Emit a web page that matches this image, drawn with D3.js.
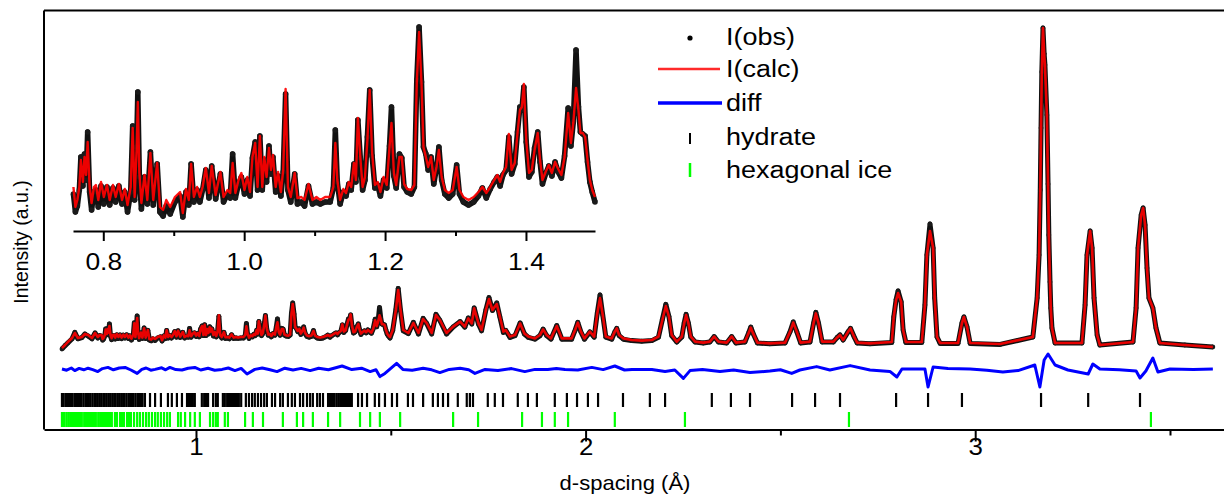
<!DOCTYPE html>
<html><head><meta charset="utf-8">
<script src="https://cdn.jsdelivr.net/npm/d3@7"></script>
<style>
html,body{margin:0;padding:0;background:#fff;}
svg{display:block;font-family:"Liberation Sans",Arial,sans-serif;}
</style></head><body>
<svg id="chart" width="1224" height="495"></svg>
<script>
// ---- data: [d-spacing (Å), I(obs), I(calc)] ----
const profile = [
[0.656,-25,-20],[0.664,-8,-5],[0.671,5,10],[0.682,26,30],[0.689,58,55],[0.697,26,30],[0.707,32,35],[0.715,50,50],
[0.723,40,45],[0.733,26,30],[0.741,55,55],[0.748,30,35],[0.753,42,45],
[0.7576,38,45],[0.7604,20,25],[0.7632,26,32],[0.7660,42,45],[0.7682,75,72],[0.7710,46,50],[0.7733,78,75],[0.7755,52,57],
[0.7778,100,90],[0.7806,40,45],[0.7834,22,29],[0.7867,40,45],[0.7895,42,47],[0.7929,25,32],[0.7968,46,50],[0.8008,28,35],
[0.8052,45,47],[0.8091,27,32],[0.8137,44,47],[0.8176,30,35],[0.8221,46,48],[0.8266,28,32],[0.8305,40,43],[0.8344,20,27],
[0.8389,40,45],[0.8417,106,104],[0.8445,32,35],[0.8473,85,82],[0.8490,140,130],[0.8512,55,59],[0.8541,23,29],[0.8585,55,57],
[0.8625,28,32],[0.8669,80,79],[0.8709,27,32],[0.8765,68,69],[0.8804,20,25],[0.8849,16,22],[0.8894,26,32],[0.8950,18,25],
[0.9017,30,35],[0.9090,36,40],[0.9129,15,19],[0.9174,40,43],[0.9214,27,32],[0.9247,68,68],[0.9286,30,35],[0.9331,42,45],
[0.9371,30,35],[0.9410,42,45],[0.9455,62,64],[0.9500,34,39],[0.9539,66,66],[0.9595,33,37],[0.9662,58,60],[0.9707,30,35],
[0.9763,38,42],[0.9802,34,39],[0.9836,78,69],[0.9875,34,39],[0.9920,48,52],[0.9960,55,59],[1.0004,38,42],[1.0044,52,55],
[1.0083,36,40],[1.0117,74,75],[1.0156,90,89],[1.0190,42,45],[1.0223,96,96],[1.0257,42,45],[1.0285,72,75],[1.0318,50,55],
[1.0352,86,84],[1.0380,58,62],[1.0408,75,77],[1.0447,40,45],[1.0481,56,60],[1.0521,36,40],[1.0554,60,62],[1.0588,138,143],
[1.0621,42,45],[1.0661,30,35],[1.0717,58,59],[1.0756,28,34],[1.0812,30,35],[1.0857,26,32],[1.0913,46,48],[1.0969,28,32],
[1.1025,30,35],[1.1081,28,32],[1.1149,30,35],[1.1221,30,35],[1.1266,44,45],[1.1294,102,89],[1.1322,50,52],[1.1362,28,32],
[1.1407,40,43],[1.1446,36,39],[1.1485,48,50],[1.1519,42,45],[1.1558,68,69],[1.1586,50,52],[1.1614,112,114],[1.1648,74,75],
[1.1681,42,45],[1.1715,52,55],[1.1749,95,92],[1.1782,142,142],[1.1816,76,79],[1.1856,44,47],[1.1895,47,50],[1.1934,36,40],
[1.1979,52,55],[1.2024,44,47],[1.2063,86,85],[1.2091,125,109],[1.2125,56,59],[1.2158,44,47],[1.2203,78,75],[1.2237,74,75],
[1.2270,45,48],[1.2315,40,43],[1.2371,38,42],[1.2416,45,47],[1.2450,152,149],[1.2483,205,200],[1.2517,150,149],[1.2545,85,85],
[1.2579,78,75],[1.2612,62,65],[1.2652,75,75],[1.2691,48,52],[1.2730,64,65],[1.2764,85,82],[1.2803,52,55],[1.2848,38,42],
[1.2904,34,39],[1.2960,38,42],[1.3016,67,65],[1.3056,38,42],[1.3112,30,35],[1.3185,27,32],[1.3258,30,35],[1.3325,36,40],
[1.3381,44,45],[1.3437,34,39],[1.3493,43,45],[1.3549,50,52],[1.3594,55,57],[1.3633,46,50],[1.3673,57,59],[1.3718,62,65],
[1.3757,95,98],[1.3796,58,62],[1.3841,68,69],[1.3880,100,99],[1.3914,125,122],[1.3942,122,125],[1.3970,145,148],[1.4004,90,92],
[1.4043,55,59],[1.4083,60,62],[1.4122,84,82],[1.4167,100,99],[1.4200,70,72],[1.4234,48,52],[1.4279,58,60],[1.4324,66,67],
[1.4368,56,59],[1.4413,70,70],[1.4458,60,63],[1.4503,54,57],[1.4548,76,75],[1.4599,124,119],[1.4638,86,89],[1.4672,110,109],
[1.4711,182,144],[1.4745,125,122],[1.4773,100,99],[1.4806,98,99],[1.4840,96,95],[1.4874,70,72],[1.4907,50,52],[1.4941,40,42],
[1.4980,30,35],
[1.505,68,70],[1.513,172,170],[1.519,278,270],[1.525,168,170],[1.532,66,70],[1.545,52,55],[1.558,108,105],[1.571,50,55],
[1.583,128,125],[1.592,103,105],[1.605,50,55],[1.616,148,145],[1.626,118,120],[1.643,50,55],[1.660,85,87],[1.678,112,112],
[1.690,84,87],[1.699,130,128],[1.708,100,103],[1.714,180,178],[1.725,100,103],[1.733,66,70],[1.744,170,170],[1.752,232,225],
[1.761,168,170],[1.772,205,200],[1.780,135,137],[1.789,58,62],[1.795,68,70],[1.806,33,37],[1.819,42,45],[1.832,105,103],
[1.843,50,53],[1.853,33,37],[1.870,24,28],[1.883,42,45],[1.891,74,73],[1.900,42,45],[1.911,24,28],[1.926,92,90],
[1.939,24,28],[1.964,24,28],[1.973,68,70],[1.980,108,107],[1.988,60,62],[1.997,24,28],[2.011,60,62],[2.022,34,37],
[2.030,155,153],[2.037,245,230],[2.044,145,145],[2.052,34,37],[2.067,24,28],[2.075,60,62],[2.080,78,78],[2.086,42,45],
[2.097,24,28],[2.118,17,20],[2.144,14,17],[2.170,17,20],[2.187,34,37],[2.197,122,120],[2.206,198,190],[2.214,137,137],
[2.221,42,45],[2.234,10,12],[2.247,35,37],[2.253,105,103],[2.258,148,145],[2.264,103,103],[2.270,35,37],[2.281,10,12],
[2.302,5,7],[2.319,10,12],[2.330,37,37],[2.341,10,12],[2.362,5,7],[2.375,37,37],[2.386,5,7],[2.409,10,12],
[2.418,53,53],[2.424,84,82],[2.430,53,53],[2.441,5,7],[2.473,1,3],[2.512,5,7],[2.525,62,62],[2.533,110,107],
[2.542,62,62],[2.552,5,7],[2.576,10,12],[2.585,103,103],[2.591,158,153],[2.598,103,103],[2.607,10,12],[2.636,10,12],
[2.646,33,33],[2.653,45,45],[2.661,20,20],[2.674,62,62],[2.680,78,78],[2.689,37,37],[2.697,5,7],[2.730,1,3],
[2.786,8,10],[2.791,135,135],[2.797,222,220],[2.802,265,255],[2.810,210,210],[2.815,70,70],[2.822,8,10],[2.863,8,10],
[2.871,195,195],[2.876,445,445],[2.884,600,565],[2.892,480,480],[2.896,230,230],[2.902,35,35],[2.910,3,5],[2.956,3,5],
[2.966,105,105],[2.971,135,135],[2.979,85,85],[2.987,3,5],[3.064,-2,0],[3.148,35,35],[3.159,230,230],[3.164,445,445],
[3.167,770,770],[3.169,1080,1080],[3.171,1360,1360],[3.174,1580,1580],[3.177,1450,1450],[3.179,1395,1395],[3.184,1145,1145],
[3.187,800,800],[3.189,545,545],[3.192,310,310],[3.194,180,180],[3.197,80,80],[3.205,5,5],[3.274,5,5],[3.282,195,195],
[3.287,445,445],[3.295,565,565],[3.300,480,480],[3.305,230,230],[3.313,45,45],[3.320,-5,-5],[3.405,10,10],[3.413,180,180],
[3.418,480,480],[3.426,645,645],[3.431,680,680],[3.436,595,595],[3.441,380,380],[3.446,230,230],[3.456,180,180],[3.464,80,80],
[3.474,5,5],[3.538,-5,-5],[3.610,-15,-15]
];
// difference curve [d, I(obs)-I(calc)]
const diffCurve = [
[0.656,0],[0.668,-6],[0.680,5],[0.689,-8],[0.700,3],[0.712,-4],[0.723,4],[0.735,-3],[0.748,-13],[0.760,2],[0.774,8],
[0.788,-4],[0.803,5],[0.818,8],[0.833,-5],[0.849,-22],[0.861,-2],[0.872,5],[0.884,-6],[0.895,-2],[0.912,6],[0.922,-4],
[0.933,8],[0.948,-3],[0.964,-5],[0.980,4],[0.997,8],[1.012,-5],[1.031,4],[1.048,-6],[1.067,-2],[1.083,5],[1.100,-8],
[1.116,3],[1.131,-25],[1.151,-2],[1.170,5],[1.190,-4],[1.208,-13],[1.228,4],[1.249,-5],[1.270,3],[1.293,-8],[1.315,4],
[1.340,-4],[1.375,15],[1.400,-3],[1.425,4],[1.447,-13],[1.462,-4],
[1.472,-38],[1.485,-22],[1.503,8],[1.515,28],[1.531,-2],[1.555,-6],[1.583,4],[1.605,-4],[1.626,-18],[1.650,-2],[1.678,4],
[1.700,-4],[1.716,-22],[1.742,-2],[1.775,-8],[1.810,2],
[1.844,-13],[1.870,-2],[1.903,-2],[1.925,3],[1.947,-2],[1.980,-5],[2.016,8],[2.045,-3],[2.075,15],[2.100,-5],[2.119,-2],[2.170,-2],[2.204,-13],[2.229,-5],[2.251,-47],[2.268,-8],
[2.300,-3],[2.345,-13],[2.380,-5],[2.422,-18],[2.473,-10],[2.500,-4],[2.529,-22],[2.550,-5],[2.593,12],[2.627,-5],[2.679,17],[2.730,-5],[2.781,-12],[2.799,-40],
[2.812,0],[2.871,0],[2.879,-90],[2.892,10],[2.930,2],[2.987,0],[3.030,-6],[3.071,-15],[3.110,-8],[3.153,20],[3.166,-90],[3.177,45],[3.187,75],[3.205,20],
[3.238,-5],[3.290,-25],[3.302,25],[3.320,0],[3.370,-4],[3.413,-10],[3.423,-45],[3.438,-10],[3.456,55],[3.469,-15],[3.500,0],[3.560,-3],[3.610,0]
];
// reflection positions (d, Å)
const hydrateTicks = [0.656,0.660,0.665,0.669,0.674,0.679,0.683,0.688,0.692,0.697,0.702,0.706,0.711,0.716,0.720,0.725,0.729,
0.734,0.739,0.743,0.748,0.753,0.757,0.762,0.766,0.771,0.776,0.780,0.785,0.790,0.794,0.799,0.803,0.808,0.813,0.817,0.822,
0.827,0.831,0.836,0.840,0.845,0.850,0.854,0.859,0.863,0.869,0.882,0.895,0.910,0.928,0.938,0.951,0.964,0.977,0.982,0.987,
0.992,0.997,1.015,1.021,1.026,1.031,1.044,1.051,1.056,1.069,1.074,1.080,1.085,1.090,1.095,1.100,1.105,1.110,1.116,1.128,
1.136,1.144,1.151,1.159,1.167,1.175,1.182,1.195,1.203,1.216,1.223,1.236,1.246,1.254,1.267,1.275,1.285,1.293,1.300,1.311,
1.318,1.326,1.339,1.344,1.349,1.354,1.360,1.365,1.370,1.375,1.380,1.385,1.390,1.395,1.400,1.416,1.426,1.439,1.459,1.470,
1.485,1.503,1.516,1.544,1.557,1.583,1.608,1.621,1.634,1.647,1.672,1.695,1.703,1.711,1.749,1.767,1.788,1.826,1.852,1.875,
1.921,1.952,1.978,2.006,2.032,2.096,2.165,2.204,2.324,2.373,2.422,2.530,2.589,2.653,2.797,2.879,2.966,3.169,3.290,3.423];
const iceTicks = [0.656,0.661,0.667,0.672,0.677,0.682,0.687,0.692,0.697,0.702,0.707,0.713,0.718,0.723,0.728,0.733,0.738,
0.743,0.749,0.754,0.759,0.764,0.769,0.774,0.779,0.784,0.792,0.797,0.805,0.810,0.815,0.823,0.828,0.833,0.841,0.849,0.856,
0.864,0.872,0.879,0.887,0.895,0.902,0.910,0.918,0.926,0.933,0.954,0.961,0.972,0.985,0.997,1.010,1.036,1.044,1.051,1.056,
1.074,1.082,1.126,1.146,1.172,1.223,1.259,1.275,1.300,1.339,1.370,1.421,1.447,1.472,1.524,1.660,1.724,1.837,1.888,1.921,
1.955,2.075,2.255,2.676,3.451];
const mainTicks = [1, 2, 3];
const mainMinorTicks = [1.5, 2.5, 3.5];
const insetTicks = [0.8, 1.0, 1.2, 1.4];
const insetMinorTicks = [0.9, 1.1, 1.3];
const legendLabels = ["I(obs)", "I(calc)", "diff", "hydrate", "hexagonal ice"];

// ---- drawing ----
const svg = d3.select("#chart");
const x = d3.scaleLinear().domain([0.6099, 3.6386]).range([44, 1224]);
const y = d3.scaleLinear().domain([-427.5, 1667.5]).range([429.5, 10.5]);
const xi = d3.scaleLinear().domain([0.757, 1.498]).range([73, 595]);
const yi = d3.scaleLinear().domain([0, 215]).range([232, 17]);
const diffOffset = -125;
const HX = 1.1; // horizontal text stretch

// frame
svg.append("line").attr("x1",44).attr("x2",1224).attr("y1",10.5).attr("y2",10.5).attr("stroke","#000").attr("stroke-width",2);
svg.append("line").attr("x1",44).attr("x2",44).attr("y1",10.5).attr("y2",429.5).attr("stroke","#000").attr("stroke-width",2);

// main axis
const gx = svg.append("g").attr("transform","translate(0,429.5)")
  .call(d3.axisBottom(x).tickValues(mainTicks).tickSize(12).tickSizeOuter(0).tickFormat(d3.format("d")));
gx.attr("font-size",null).attr("font-family",null);
gx.select(".domain").attr("stroke-width",2);
gx.selectAll(".tick line").attr("stroke-width",2);
gx.selectAll(".tick text").attr("y",26).attr("dy",0).attr("font-size",23.5).attr("fill","#000")
  .attr("transform",`scale(${HX},1)`);
const gxm = svg.append("g").attr("transform","translate(0,429.5)")
  .call(d3.axisBottom(x).tickValues(mainMinorTicks).tickSize(6).tickSizeOuter(0).tickFormat(""));
gxm.select(".domain").remove();
gxm.selectAll(".tick line").attr("stroke-width",2);

// tick rows
const hydRow = [-245, -315], iceRow = [-340, -415];
svg.append("g").selectAll("line").data(hydrateTicks).join("line")
  .attr("x1",d=>x(d)).attr("x2",d=>x(d)).attr("y1",y(hydRow[0])).attr("y2",y(hydRow[1]))
  .attr("stroke","#000").attr("stroke-width",2.2);
svg.append("g").selectAll("line").data(iceTicks).join("line")
  .attr("x1",d=>x(d)).attr("x2",d=>x(d)).attr("y1",y(iceRow[0])).attr("y2",y(iceRow[1]))
  .attr("stroke","#00ff00").attr("stroke-width",2.2);

// diff
svg.append("path").datum(diffCurve)
  .attr("d", d3.line().x(d=>x(d[0])).y(d=>y(d[1]+diffOffset)))
  .attr("fill","none").attr("stroke","#0000ff").attr("stroke-width",3).attr("stroke-linejoin","round");

// main profile
const obsLine = d3.line().x(d=>x(d[0])).y(d=>y(d[1]));
const calcLine = d3.line().x(d=>x(d[0])).y(d=>y(d[2]));
svg.append("path").datum(profile).attr("d",obsLine).attr("fill","none")
  .attr("stroke","#111").attr("stroke-width",5).attr("stroke-linejoin","round");
svg.append("g").selectAll("circle").data(profile).join("circle")
  .attr("cx",d=>x(d[0])).attr("cy",d=>y(d[1])).attr("r",2.4).attr("fill","#1a1a1a");
svg.append("path").datum(profile).attr("d",calcLine).attr("fill","none")
  .attr("stroke","#ff0000").attr("stroke-width",2.6).attr("stroke-opacity",0.9).attr("stroke-linejoin","round");

// inset
const insetData = profile.filter(d=>d[0]>=0.757 && d[0]<=1.4985);
svg.append("path").datum(insetData).attr("d", d3.line().x(d=>xi(d[0])).y(d=>yi(d[1])))
  .attr("fill","none").attr("stroke","#111").attr("stroke-width",5.5).attr("stroke-linejoin","round");
svg.append("g").selectAll("circle").data(insetData).join("circle")
  .attr("cx",d=>xi(d[0])).attr("cy",d=>yi(d[1])).attr("r",2.8).attr("fill","#1a1a1a");
svg.append("path").datum(insetData).attr("d", d3.line().x(d=>xi(d[0])).y(d=>yi(d[2])))
  .attr("fill","none").attr("stroke","#ff0000").attr("stroke-width",2.4).attr("stroke-opacity",0.92).attr("stroke-linejoin","round");
const gi = svg.append("g").attr("transform","translate(0,231)")
  .call(d3.axisBottom(xi).tickValues(insetTicks).tickSize(10).tickSizeOuter(0).tickFormat(d3.format(".1f")));
gi.attr("font-size",null).attr("font-family",null);
gi.select(".domain").attr("stroke-width",2);
gi.selectAll(".tick line").attr("stroke-width",2);
gi.selectAll(".tick text").attr("y",39).attr("dy",0).attr("font-size",24).attr("fill","#000")
  .attr("transform",`scale(${HX},1)`);
const gim = svg.append("g").attr("transform","translate(0,231)")
  .call(d3.axisBottom(xi).tickValues(insetMinorTicks).tickSize(5).tickSizeOuter(0).tickFormat(""));
gim.select(".domain").remove();
gim.selectAll(".tick line").attr("stroke-width",2);

// axis titles
svg.append("text").attr("transform","translate(27.5,242) rotate(-90)").attr("text-anchor","middle")
  .attr("font-size",19.5).text("Intensity (a.u.)");
svg.append("text").attr("transform",`translate(625,490) scale(${HX},1)`).attr("text-anchor","middle")
  .attr("font-size",20).text("d-spacing (Å)");

// legend
const lg = svg.append("g");
const baselines = [45, 77, 111, 145, 178];
lg.selectAll("text").data(legendLabels).join("text")
  .attr("transform",(d,i)=>`translate(726,${baselines[i]}) scale(${HX},1)`)
  .attr("font-size",24.5).text(d=>d);
lg.append("circle").attr("cx",690).attr("cy",38).attr("r",2.6).attr("fill","#000");
lg.append("line").attr("x1",658).attr("x2",720).attr("y1",69).attr("y2",69).attr("stroke","#ff2a2a").attr("stroke-width",2.5);
lg.append("line").attr("x1",658).attr("x2",722).attr("y1",103).attr("y2",103).attr("stroke","#0000ff").attr("stroke-width",3.5);
lg.append("line").attr("x1",690).attr("x2",690).attr("y1",133).attr("y2",144).attr("stroke","#000").attr("stroke-width",2);
lg.append("line").attr("x1",690).attr("x2",690).attr("y1",163).attr("y2",177).attr("stroke","#00ff00").attr("stroke-width",2.5);
</script>
</body></html>
